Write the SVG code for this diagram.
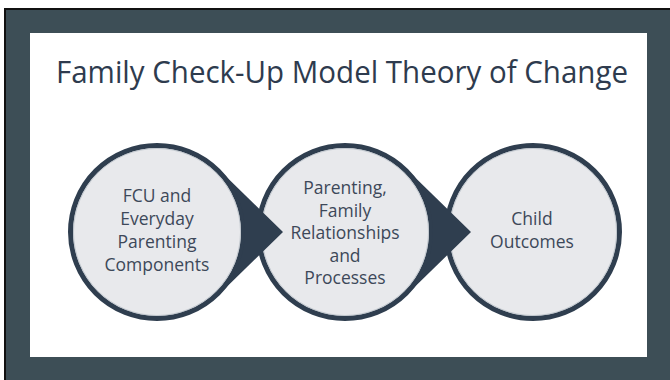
<svg xmlns="http://www.w3.org/2000/svg" width="670" height="380" viewBox="0 0 670 380">
  <style>
    .ring { fill: #e8e9ec; stroke: #2f3e4f; stroke-width: 5; }
    .inner { fill: none; stroke: #b9c0c8; stroke-width: 0.8; }
    .lbl { font-family: "Open Sans", "Liberation Sans", sans-serif; font-size: 17.5px; fill: #3d4859; text-anchor: middle; }
    .title { font-family: "Open Sans", "Liberation Sans", sans-serif; font-size: 31px; fill: #2e3b4e; }
    .arrow { fill: #2f3e4f; }
  </style>
  <rect x="0" y="0" width="670" height="380" fill="#ffffff"/>
  <rect x="4" y="8" width="666" height="372" fill="#111111"/>
  <rect x="6" y="10" width="664" height="370" fill="#3d4e56"/>
  <rect x="30" y="33" width="617" height="324" fill="#ffffff"/>
  <text class="title" x="56" y="83" textLength="572" lengthAdjust="spacingAndGlyphs">Family Check-Up Model Theory of Change</text>

  <g id="node-fcu">
    <circle class="ring" cx="157" cy="232" r="86.5"/>
    <circle class="inner" cx="157" cy="232" r="83.5"/>
    <text class="lbl" x="157" y="202">FCU and</text>
    <text class="lbl" x="157" y="225">Everyday</text>
    <text class="lbl" x="157" y="248">Parenting</text>
    <text class="lbl" x="157" y="271">Components</text>
  </g>
  <g id="node-parenting">
    <circle class="ring" cx="345" cy="232" r="86.5"/>
    <circle class="inner" cx="345" cy="232" r="83.5"/>
    <text class="lbl" x="345" y="194">Parenting,</text>
    <text class="lbl" x="345" y="216.5">Family</text>
    <text class="lbl" x="345" y="239">Relationships</text>
    <text class="lbl" x="345" y="261.5">and</text>
    <text class="lbl" x="345" y="284">Processes</text>
  </g>
  <g id="node-child">
    <circle class="ring" cx="533" cy="232" r="86.5"/>
    <circle class="inner" cx="533" cy="232" r="83.5"/>
    <text class="lbl" x="532" y="225">Child</text>
    <text class="lbl" x="532" y="248">Outcomes</text>
  </g>
  <g id="connectors">
    <path class="arrow" d="M218.4 169 L283 232 L218.4 295 A88 88 0 0 0 218.4 169 Z"/>
    <path class="arrow" d="M406.4 169 L471 232 L406.4 295 A88 88 0 0 0 406.4 169 Z"/>
  </g>
</svg>
